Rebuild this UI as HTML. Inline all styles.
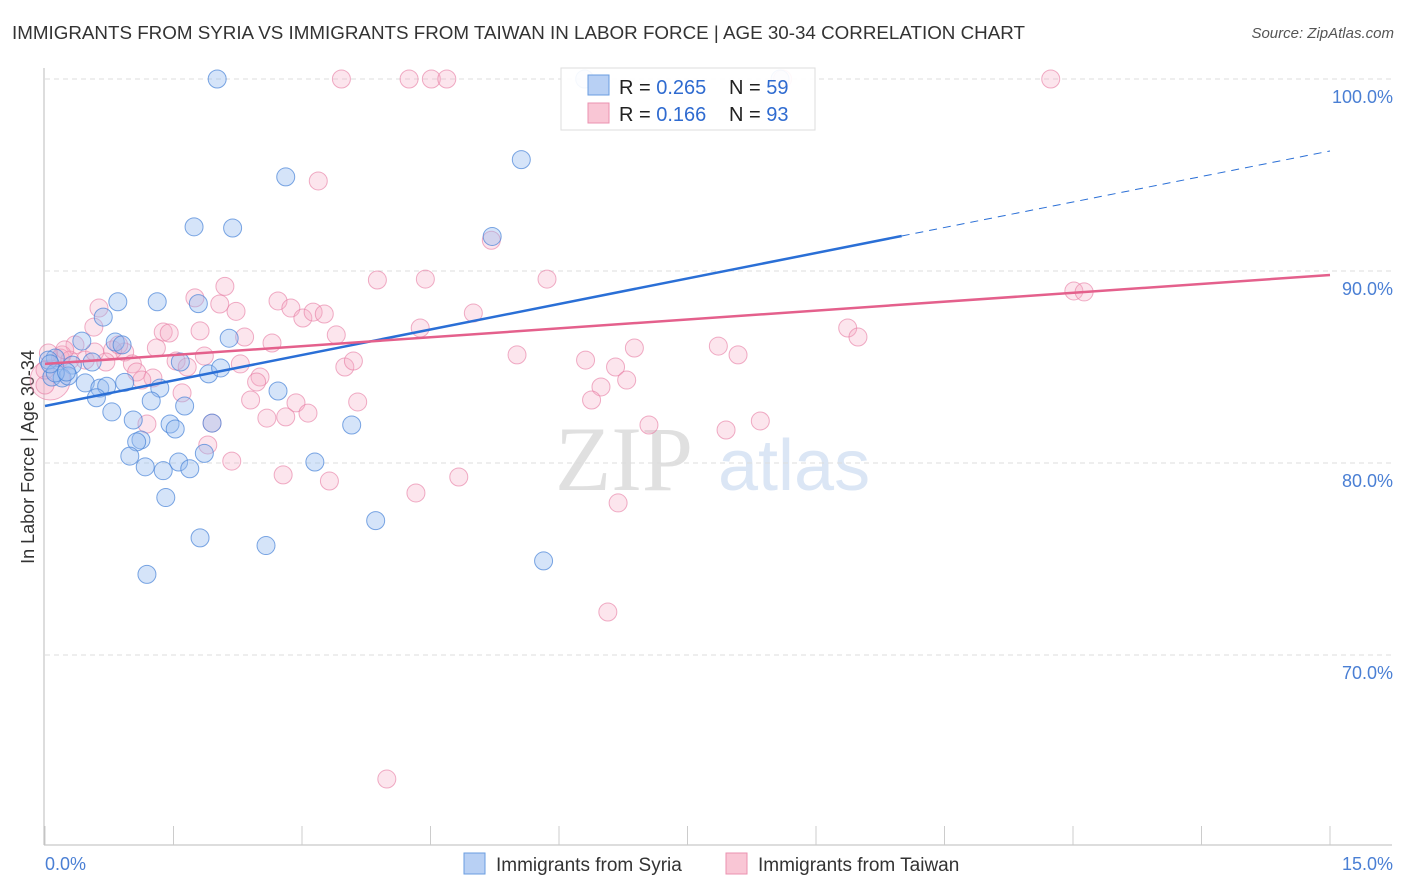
<!DOCTYPE html>
<html><head><meta charset="utf-8"><style>
body{margin:0;background:#fff;font-family:"Liberation Sans",sans-serif;}
#wrap{position:relative;width:1406px;height:892px;overflow:hidden;}
.t{position:absolute;white-space:nowrap;}
</style></head><body>
<div id="wrap">
<div class="t" style="left:12px;top:22px;font-size:18.8px;color:#333;">IMMIGRANTS FROM SYRIA VS IMMIGRANTS FROM TAIWAN IN LABOR FORCE | AGE 30-34 CORRELATION CHART</div>
<div class="t" style="right:12px;top:25px;font-size:15px;color:#555;font-style:italic;">Source: ZipAtlas.com</div>
<svg id="svg" width="1406" height="892" style="position:absolute;left:0;top:0"></svg>
</div>
<script>
const xTickVals=[0,1.5,3,4.5,6,7.5,9,10.5,12,13.5,15];
const yTickVals=[100,90,80,70];
const yTickLabels=["100.0%","90.0%","80.0%","70.0%"];
const syriaX=[2.01,2.81,1.74,2.19,5.56,5.22,0.85,1.31,1.79,0.68,0.43,0.82,0.90,2.15,1.58,1.91,2.05,0.55,0.32,0.12,0.08,0.20,0.27,0.47,0.64,0.72,0.93,1.34,2.72,0.60,1.24,1.63,0.78,1.03,1.46,1.52,1.95,3.58,1.12,1.07,0.99,1.17,1.38,1.56,1.69,1.86,3.15,1.41,3.86,1.81,2.58,5.82,1.19,6.30,8.58,0.04,0.12,0.06,0.25];
const syriaY=[100,94.9,92.3,92.24,95.8,91.8,88.4,88.4,88.3,87.6,86.35,86.3,86.15,86.5,85.26,84.64,84.95,85.26,85.1,85.47,84.48,84.43,84.53,84.17,83.9,84.0,84.2,83.9,83.75,83.4,83.23,82.97,82.66,82.24,82.03,81.77,82.08,81.98,81.2,81.1,80.36,79.8,79.6,80.05,79.7,80.5,80.05,78.2,77.0,76.1,75.7,74.9,74.2,100,100,85.36,84.69,85.16,84.74];
const taiwanX=[3.46,4.25,4.51,4.69,11.74,8.61,3.19,5.21,3.88,4.44,5.86,2.10,1.75,0.63,2.04,2.23,2.72,2.87,3.01,3.13,3.26,5.0,0.57,1.38,1.45,1.81,2.33,2.65,3.40,4.38,9.37,9.49,0.35,0.20,0.93,0.79,1.30,1.53,1.86,2.28,0.71,1.02,1.66,3.50,3.60,5.51,6.31,6.88,7.86,8.09,6.66,1.07,1.26,2.51,2.47,1.13,6.79,6.49,1.60,2.40,2.93,3.07,2.59,2.81,3.65,6.38,1.95,1.19,7.05,7.95,8.35,1.90,2.18,2.78,3.32,4.83,4.33,6.69,6.57,3.99,12.01,12.13,0.06,0,0.18,0,0.29,0.47,0.23,0.04,0.86,0.58];
const taiwanY=[100,100,100,100,100,100,94.69,91.6,89.53,89.58,89.58,89.2,88.6,88.07,88.28,87.9,88.44,88.07,87.55,87.86,87.76,87.81,87.08,86.82,86.77,86.88,86.56,86.25,86.67,87.03,87.03,86.56,86.15,85.63,85.78,85.89,85.99,85.31,85.57,85.16,85.26,85.16,85.0,85.0,85.31,85.63,85.36,85.99,86.09,85.63,85.0,84.74,84.43,84.48,84.22,84.32,84.32,83.96,83.65,83.28,83.13,82.6,82.34,82.4,83.18,83.28,82.08,82.03,81.98,81.72,82.19,80.94,80.1,79.38,79.06,79.27,78.44,77.92,72.24,63.54,88.96,88.91,84.32,84.06,85.47,84.84,85.36,85.36,85.89,85.73,86.15,85.78];
const syriaTrend=[82.97,96.25]; const syriaSolidEnd=10.0;
const taiwanTrend=[85.16,89.79];

const NS="http://www.w3.org/2000/svg";
const svg=document.getElementById('svg');
const X=v=>45+v*(1285/15);
const Y=v=>79+(100-v)*19.2;
function mk(tag,at,parent){const e=document.createElementNS(NS,tag);for(const k in at)e.setAttribute(k,at[k]);(parent||svg).appendChild(e);return e;}
function txt(s,x,y,at){const e=mk('text',Object.assign({x:x,y:y,'font-family':'Liberation Sans, sans-serif'},at));e.textContent=s;return e;}

let w=txt('ZIP',555,490,{'font-size':'92','fill':'#e0e0e0','font-family':'Liberation Serif, serif'});


w=txt('atlas',718,490,{'font-size':'72','fill':'#dbe6f5'});



yTickVals.forEach((v,i)=>{
  const g=mk('line',{x1:45,x2:1392,y1:Y(v),y2:Y(v),stroke:'#ddd','stroke-dasharray':'5,4'});
  
  
  const t=txt(yTickLabels[i],1393,Y(v)+24,{'font-size':'18','fill':'#4a7fd4','text-anchor':'end'});
  
  
});
let a=mk('line',{x1:44,x2:44,y1:68,y2:845,stroke:'#bbb'});


a=mk('line',{x1:44,x2:1392,y1:845,y2:845,stroke:'#bbb'});


xTickVals.forEach(v=>{
  const l=mk('line',{x1:X(v),x2:X(v),y1:826,y2:845,stroke:'#ccc'});
  
  
});
let xl=txt('0.0%',45,870,{'font-size':'18','fill':'#4a7fd4'});


xl=txt('15.0%',1393,870,{'font-size':'18','fill':'#4a7fd4','text-anchor':'end'});


let yt=txt('In Labor Force | Age 30-34',34,457,{'font-size':'18','fill':'#333','text-anchor':'middle','transform':'rotate(-90 34 457)'});



taiwanX.forEach((v,i)=>{
  const big=(i===82);
  const c=mk('circle',{cx:X(v),cy:Y(taiwanY[i]),r:big?20:9,fill:'rgba(246,170,195,0.3)',stroke:'rgba(230,120,160,0.6)','stroke-width':1});
  
  
});
syriaX.forEach((v,i)=>{
  const c=mk('circle',{cx:X(v),cy:Y(syriaY[i]),r:9,fill:'rgba(150,188,240,0.4)',stroke:'rgba(70,130,215,0.7)','stroke-width':1});
  
  
});
const ys=v=>syriaTrend[0]+(syriaTrend[1]-syriaTrend[0])*v/15;
let tl=mk('line',{x1:X(0),y1:Y(syriaTrend[0]),x2:X(syriaSolidEnd),y2:Y(ys(syriaSolidEnd)),stroke:'#2a6fd6','stroke-width':2.5});


tl=mk('line',{x1:X(syriaSolidEnd),y1:Y(ys(syriaSolidEnd)),x2:X(15),y2:Y(syriaTrend[1]),stroke:'#2a6fd6','stroke-width':1,'stroke-dasharray':'8,6'});


tl=mk('line',{x1:X(0),y1:Y(taiwanTrend[0]),x2:X(15),y2:Y(taiwanTrend[1]),stroke:'#e4608c','stroke-width':2.5});



const lg=mk('g',{});


mk('rect',{x:561,y:68,width:254,height:62,fill:'rgba(255,255,255,0.92)',stroke:'#ddd'},lg);
mk('rect',{x:588,y:75,width:21,height:20,fill:'#b8d0f4',stroke:'#6a9de0'},lg);
mk('rect',{x:588,y:103,width:21,height:20,fill:'#f9c6d5',stroke:'#eb92b0'},lg);
[['R = ','0.265','N = ','59',94],['R = ',' 0.166','N = ','93',121]].forEach(r=>{
  const t=mk('text',{x:619,y:r[4],'font-size':'20','font-family':'Liberation Sans, sans-serif'},lg);
  t.innerHTML='<tspan fill="#222">'+r[0]+'</tspan><tspan fill="#2f6bd0">'+r[1]+'</tspan>';
  const n=mk('text',{x:729,y:r[4],'font-size':'20','font-family':'Liberation Sans, sans-serif'},lg);
  n.innerHTML='<tspan fill="#222">'+r[2]+'</tspan><tspan fill="#2f6bd0">'+r[3]+'</tspan>';
});
[['#b8d0f4','#6a9de0','Immigrants from Syria',464,'legend-syria'],['#f9c6d5','#eb92b0','Immigrants from Taiwan',726,'legend-taiwan']].forEach(d=>{
  const g=mk('g',{});
  
  
  mk('rect',{x:d[3],y:853,width:21,height:21,fill:d[0],stroke:d[1]},g);
  const t=mk('text',{x:d[3]+32,y:871,'font-size':'19','fill':'#333','font-family':'Liberation Sans, sans-serif'},g);
  t.textContent=d[2];
});
</script>
</body></html>
